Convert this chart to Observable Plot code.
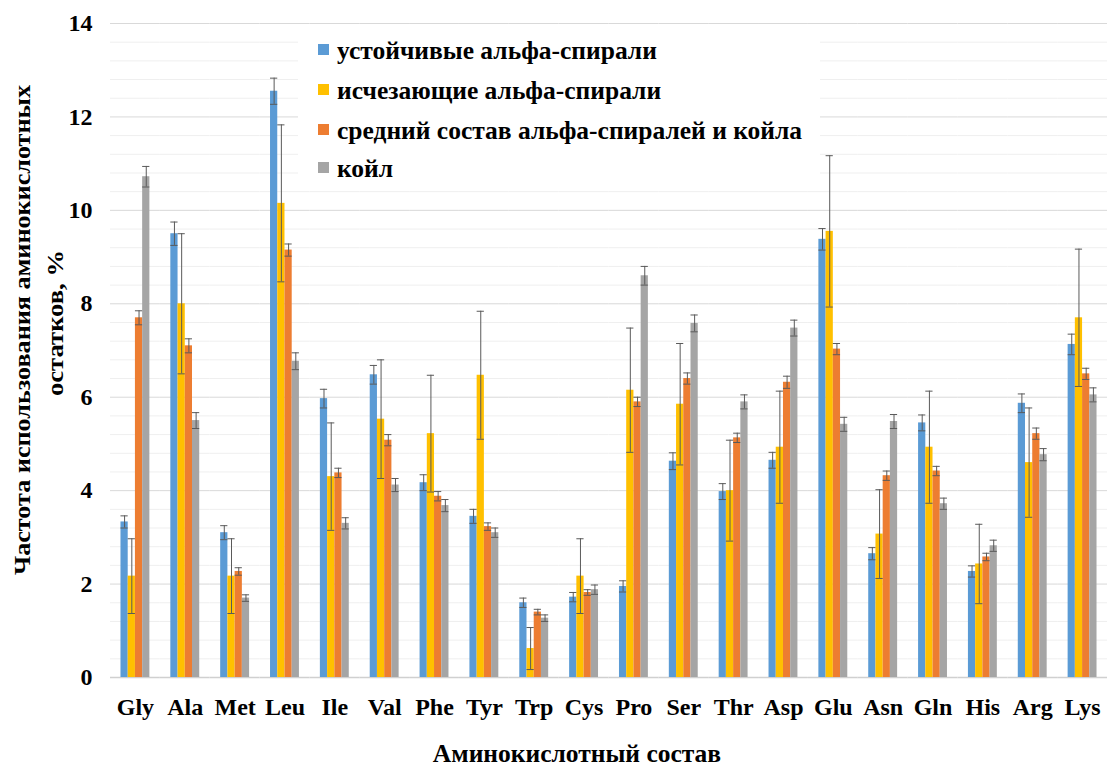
<!DOCTYPE html>
<html>
<head>
<meta charset="utf-8">
<script src="https://cdn.jsdelivr.net/npm/d3@7"></script>
<script src="https://cdn.jsdelivr.net/npm/@observablehq/plot@0.6"></script>
<style>
  html, body { margin: 0; padding: 0; background: #fff; }
  #chart { width: 1107px; height: 767px; }
</style>
</head>
<body>
<div id="chart"></div>
<script>
// ---- Data ----
const categories = ["Gly","Ala","Met","Leu","Ile","Val","Phe","Tyr","Trp","Cys","Pro","Ser","Thr","Asp","Glu","Asn","Gln","His","Arg","Lys"];
const seriesNames = [
  "устойчивые альфа-спирали",
  "исчезающие альфа-спирали",
  "средний состав альфа-спиралей и койла",
  "койл"
];
const seriesColors = ["#5B9BD5", "#FFC000", "#ED7D31", "#A5A5A5"];

const stableHelix    = [3.33, 9.5, 3.1, 12.55, 5.97, 6.48, 4.17, 3.45, 1.6, 1.72, 1.95, 4.63, 3.98, 4.65, 9.38, 2.65, 5.45, 2.27, 5.87, 7.13];
const stableHelixErr = [0.13, 0.25, 0.15, 0.28, 0.2, 0.2, 0.17, 0.15, 0.1, 0.1, 0.12, 0.18, 0.17, 0.17, 0.23, 0.13, 0.17, 0.12, 0.2, 0.22];
const vanishHelix    = [2.17, 8.0, 2.17, 10.15, 4.3, 5.53, 5.22, 6.47, 0.62, 2.17, 6.15, 5.85, 4.0, 4.93, 9.55, 3.07, 4.93, 2.43, 4.6, 7.7];
const vanishHelixErr = [0.8, 1.5, 0.8, 1.68, 1.15, 1.27, 1.25, 1.37, 0.45, 0.8, 1.33, 1.3, 1.08, 1.2, 1.62, 0.95, 1.2, 0.85, 1.17, 1.47];
const meanComp       = [7.7, 7.1, 2.27, 9.15, 4.38, 5.08, 3.88, 3.23, 1.4, 1.82, 5.9, 6.4, 5.13, 6.32, 7.03, 4.32, 4.42, 2.58, 5.22, 6.5];
const meanCompErr    = [0.15, 0.15, 0.08, 0.13, 0.1, 0.12, 0.1, 0.08, 0.06, 0.06, 0.1, 0.12, 0.1, 0.13, 0.12, 0.1, 0.1, 0.08, 0.12, 0.12];
const coil           = [10.72, 5.5, 1.7, 6.77, 3.3, 4.12, 3.68, 3.1, 1.27, 1.88, 8.6, 7.58, 5.9, 7.48, 5.42, 5.48, 3.72, 2.82, 4.77, 6.05];
const coilErr        = [0.22, 0.17, 0.07, 0.18, 0.12, 0.14, 0.13, 0.1, 0.07, 0.1, 0.2, 0.18, 0.15, 0.17, 0.15, 0.15, 0.12, 0.12, 0.13, 0.15];

const yTicks = [0, 2, 4, 6, 8, 10, 12, 14];
const minorTicks = [0.4,0.8,1.2,1.6,2.4,2.8,3.2,3.6,4.4,4.8,5.2,5.6,6.4,6.8,7.2,7.6,8.4,8.8,9.2,9.6,10.4,10.8,11.2,11.6,12.4,12.8,13.2,13.6];
const yTitleLines = ["Частота использования аминокислотных", "остатков, %"];
const xTitle = "Аминокислотный состав";

// ---- Build table ----
const values = [stableHelix, vanishHelix, meanComp, coil];
const errors = [stableHelixErr, vanishHelixErr, meanCompErr, coilErr];
const data = categories.flatMap((cat, i) =>
  seriesNames.map((s, j) => ({ cat, series: s, value: values[j][i], err: errors[j][i] }))
);

const FONT = "'Liberation Serif', 'Times New Roman', serif";
const errColor = "#5a5a5a";

const chart = Plot.plot({
  width: 1107,
  height: 767,
  marginLeft: 110,
  marginRight: 0,
  marginTop: 23,
  marginBottom: 90,
  style: { fontFamily: FONT, fontSize: "24px", fontWeight: "bold", color: "#000", background: "#fff" },
  fx: { domain: categories, padding: 0, round: false, axis: "bottom", tickSize: 0, tickPadding: 20, label: null },
  x: { domain: seriesNames, axis: null, paddingInner: 0, paddingOuter: 1.45, round: false },
  y: { domain: [0, 14], ticks: yTicks, tickSize: 0, tickPadding: 18, label: null, tickFormat: d => String(d) },
  color: { domain: seriesNames, range: seriesColors },
  marks: [
    Plot.ruleY(minorTicks, { stroke: "#efefef", strokeWidth: 1 }),
    Plot.ruleY(yTicks.slice(1), { stroke: "#d9d9d9", strokeWidth: 1 }),
    Plot.ruleY([0], { stroke: "#d0d0d0", strokeWidth: 1.5 }),
    Plot.barY(data, { fx: "cat", x: "series", y: "value", fill: "series" }),
    Plot.ruleX(data, { fx: "cat", x: "series", y1: d => d.value - d.err, y2: d => d.value + d.err, stroke: errColor, strokeWidth: 1 }),
    Plot.tickY(data, { fx: "cat", x: "series", y: d => d.value + d.err, stroke: errColor, strokeWidth: 1 }),
    Plot.tickY(data, { fx: "cat", x: "series", y: d => d.value - d.err, stroke: errColor, strokeWidth: 1 })
  ]
});

document.getElementById("chart").appendChild(chart);

// ---- Titles and legend (layout text) ----
const svg = d3.select(chart);
const color = chart.scale("color");

// Legend box (white background hides gridlines as in original)
const lg = svg.append("g").attr("class", "legend").attr("text-anchor", "start");
lg.append("rect").attr("x", 298).attr("y", 27).attr("width", 522).attr("height", 160).attr("fill", "#fff");
const rowY = [50, 90, 130, 168];
seriesNames.forEach((s, i) => {
  lg.append("rect").attr("x", 318).attr("y", rowY[i] - 6).attr("width", 11).attr("height", 11)
    .attr("fill", color.apply(s));
  lg.append("text").attr("x", 337).attr("y", rowY[i]).attr("dy", "0.35em").attr("text-anchor", "start")
    .attr("font-family", FONT).attr("font-size", 25.5).attr("font-weight", "bold").attr("fill", "#000")
    .text(s);
});

// Y title (two lines, rotated)
const yt = svg.append("g").attr("font-family", FONT).attr("font-size", 24).attr("font-weight", "bold").attr("fill", "#000");
yt.append("text").attr("transform", "translate(22,330) rotate(-90)").attr("text-anchor", "middle").attr("dy", "0.35em")
  .attr("textLength", 490).attr("lengthAdjust", "spacingAndGlyphs").text(yTitleLines[0]);
yt.append("text").attr("transform", "translate(55,323) rotate(-90)").attr("text-anchor", "middle").attr("dy", "0.35em")
  .attr("textLength", 146).attr("lengthAdjust", "spacingAndGlyphs").text(yTitleLines[1]);

// X title
svg.append("text").attr("x", 577).attr("y", 753).attr("dy", "0.35em").attr("text-anchor", "middle")
  .attr("font-family", FONT).attr("font-size", 25.5).attr("font-weight", "bold").attr("fill", "#000")
  .text(xTitle);
</script>
</body>
</html>
